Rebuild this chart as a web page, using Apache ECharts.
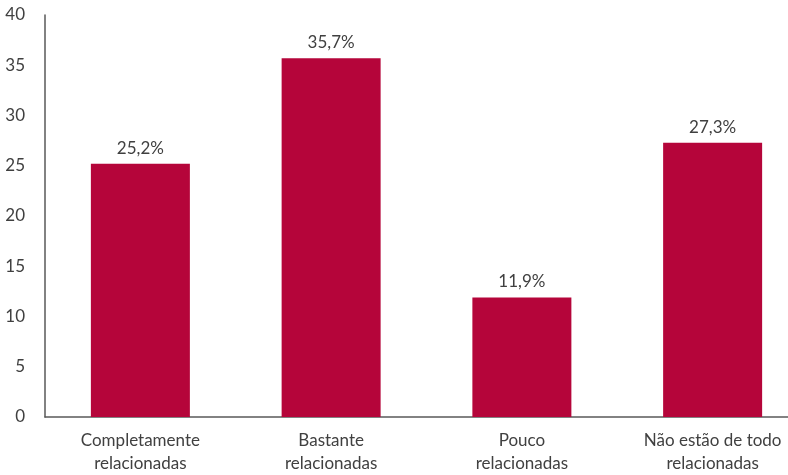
<!DOCTYPE html>
<html>
<head>
<meta charset="utf-8">
<script src="https://cdn.jsdelivr.net/npm/echarts@6/dist/echarts.min.js"></script>
<style>
  html, body { margin: 0; padding: 0; background: #fff; overflow: hidden; }
  #chart { width: 808px; height: 475px; }
</style>
</head>
<body>
<div id="chart"></div>
<script>
// Share of respondents by degree of relation (%)
const categories = [
  'Completamente\nrelacionadas',
  'Bastante\nrelacionadas',
  'Pouco\nrelacionadas',
  'Não estão de todo\nrelacionadas'
];
const values = [25.2, 35.7, 11.9, 27.3];
const valueLabels = ['25,2%', '35,7%', '11,9%', '27,3%'];

const FONT = 'Lato, "Open Sans", sans-serif';
const TEXT = '#404040';
const BAR = '#B5053A';

const chart = echarts.init(document.getElementById('chart'));
chart.setOption({
  animation: false,
  grid: { left: 45, right: 0, top: 15, bottom: 53.5, containLabel: false },
  xAxis: {
    type: 'category',
    data: categories,
    axisLine: { show: true, lineStyle: { color: '#595959', width: 1.5 } },
    axisTick: { show: false },
    axisLabel: {
      color: TEXT, fontFamily: FONT, fontSize: 17, lineHeight: 23,
      margin: 12, interval: 0
    }
  },
  yAxis: {
    type: 'value',
    min: 0, max: 40, interval: 5,
    axisLine: { show: true, lineStyle: { color: '#595959', width: 1.5 } },
    axisTick: { show: false },
    splitLine: { show: false },
    axisLabel: { color: TEXT, fontFamily: FONT, fontSize: 17, margin: 20 }
  },
  series: [{
    type: 'bar',
    data: values,
    barWidth: 99,
    itemStyle: { color: BAR },
    label: {
      show: true,
      position: 'top',
      distance: 7,
      color: TEXT,
      fontFamily: FONT,
      fontSize: 17,
      formatter: p => valueLabels[p.dataIndex]
    }
  }]
});
</script>
</body>
</html>
